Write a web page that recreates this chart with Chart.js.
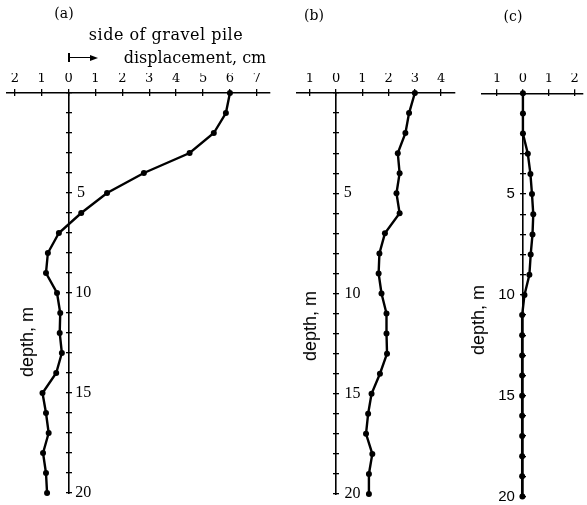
<!DOCTYPE html>
<html><head><meta charset="utf-8">
<script src="https://cdn.jsdelivr.net/npm/chart.js@4"></script>
<style>
body{margin:0;background:#fff;width:587px;height:505px;position:relative;overflow:hidden}
canvas{position:absolute;top:0}
.t{position:absolute;white-space:nowrap;color:#000;line-height:1;transform:translate(-50%,-50%)}
.ser{font-family:'DejaVu Serif',serif}
.rot{font-family:'Liberation Sans',Arial,sans-serif;font-size:18px;transform:translate(-50%,-50%) rotate(-90deg)}
.blk{position:absolute;background:#000}
</style></head><body>
<canvas id="ca" width="290" height="505" style="left:0"></canvas>
<canvas id="cb" width="170" height="505" style="left:290px"></canvas>
<canvas id="cc" width="127" height="505" style="left:460px"></canvas>

<div class="t ser" style="left:64px;top:13px;font-size:14px">(a)</div>
<div class="t ser" style="left:314px;top:15px;font-size:14px">(b)</div>
<div class="t ser" style="left:513px;top:16px;font-size:14px">(c)</div>
<div class="t ser" style="left:166px;top:35px;font-size:16px;letter-spacing:0.5px">side of gravel pile</div>
<div class="t ser" style="left:195px;top:58px;font-size:16px">displacement, cm</div>
<div class="blk" style="left:68px;top:53px;width:1.5px;height:9px"></div>
<div class="blk" style="left:68px;top:56.8px;width:24px;height:1.5px"></div>
<div style="position:absolute;left:90px;top:54.5px;width:0;height:0;border-left:8px solid #000;border-top:3px solid transparent;border-bottom:3px solid transparent"></div>
<div class="t rot" style="left:27px;top:342px">depth, m</div>
<div class="t rot" style="left:310px;top:326px">depth, m</div>
<div class="t rot" style="left:478px;top:320px">depth, m</div>

<script>
// depth below ground, m
const depths = [0,1,2,3,4,5,6,7,8,9,10,11,12,13,14,15,16,17,18,19,20];
// lateral displacement, cm
const dispA = [6.0,5.85,5.4,4.5,2.8,1.43,0.47,-0.36,-0.77,-0.84,-0.43,-0.31,-0.33,-0.25,-0.46,-0.97,-0.84,-0.74,-0.95,-0.84,-0.8];
const dispB = [3.0,2.78,2.64,2.35,2.42,2.3,2.42,1.86,1.65,1.62,1.73,1.92,1.92,1.94,1.67,1.35,1.22,1.14,1.38,1.25,1.25];
const dispC = [0,0,0,0.19,0.29,0.35,0.4,0.37,0.3,0.25,0.06,-0.03,-0.03,-0.03,-0.03,-0.03,-0.03,-0.03,-0.03,-0.03,-0.02];
// tick labels
const depthTickLabels = [5,10,15,20];
const xRangeA = [-2.29, 7.49];
const xRangeB = [-1.49, 4.53];
const xRangeC = [-1.58, 2.32];

function zeroPad(s){ s.paddingTop=0; s.paddingBottom=0; s.paddingLeft=0; s.paddingRight=0; }

function makePanel(id, values, xr, o){
  const data = depths.map((d,i)=>({x: values[i], y: d}));
  const scales = {
    x: {type:'linear', position:'top', min:xr[0], max:xr[1],
        afterFit: s=>{ s.height = 20; zeroPad(s); },
        ticks:{stepSize:1, includeBounds:false, autoSkip:false, maxRotation:0, padding:3, color:'#000',
               font:{family:'DejaVu Serif', size:13}, callback: v => String(Math.abs(Math.round(v)))},
        grid:{drawOnChartArea:false, drawTicks:true, tickLength:4, color:'#000', lineWidth:1.3},
        border:{display:true, color:'#000', width:1.6}},
    x2: {type:'linear', position:{y:0}, min:xr[0], max:xr[1],
        afterFit: zeroPad,
        ticks:{display:false, stepSize:1, includeBounds:false},
        grid:{drawOnChartArea:false, drawTicks:true, tickLength:3, color:'#000', lineWidth:1.3},
        border:{display:false}},
    y: {type:'linear', position:{x:0}, reverse:true, min:0, max:20,
        afterFit: zeroPad,
        ticks:{display:false},
        grid:{drawOnChartArea:false, drawTicks:false},
        border:{display:true, color:'#000', width:1.6}},
    y2: {type:'linear', position:{x:o.tickOff}, reverse:true, min:0, max:20,
        afterFit: zeroPad,
        ticks:{display:false, stepSize:1, includeBounds:false},
        grid:{drawOnChartArea:false, drawTicks:true, tickLength:6, color:'#000', lineWidth:1.3},
        border:{display:false}}
  };
  o.labelScales.forEach((ls, k)=>{
    scales['yl'+k] = {type:'linear', position:{x:ls.pos}, reverse:true, min:0, max:20,
      afterFit: zeroPad,
      ticks:{stepSize:5, includeBounds:false, autoSkip:false, padding:0, color:'#000', font:o.font,
             callback: v => (ls.show.includes(v) && depthTickLabels.includes(v)) ? String(v) : ''},
      grid:{display:false, drawTicks:false, drawOnChartArea:false},
      border:{display:false}};
  });
  return new Chart(document.getElementById(id), {
    type:'scatter',
    data:{datasets:[{data, xAxisID:'x', yAxisID:'y', showLine:true, borderColor:'#000', borderWidth:2.4,
      backgroundColor:'#000', pointBackgroundColor:'#000', pointBorderWidth:0, pointRadius:3, clip:false, tension:0}]},
    options:{responsive:false, animation:false, devicePixelRatio:1,
      layout:{padding:o.pad},
      plugins:{legend:{display:false}, tooltip:{enabled:false}, title:{display:false}},
      scales}
  });
}

makePanel('ca', dispA, xRangeA, {
  pad:{left:7, right:20, top:73, bottom:12}, tickOff:0.112,
  font:{family:'Liberation Serif', size:16},
  labelScales:[{pos:0.61, show:[5]}, {pos:0.84, show:[10,15,20]}]
});
makePanel('cb', dispB, xRangeB, {
  pad:{left:7, right:5, top:73, bottom:11}, tickOff:0.114,
  font:{family:'Liberation Serif', size:16},
  labelScales:[{pos:0.6, show:[5]}, {pos:0.93, show:[10,15,20]}]
});
makePanel('cc', dispC, xRangeC, {
  pad:{left:22, right:0, top:73.3, bottom:8.5}, tickOff:0.111,
  font:{family:'Liberation Sans', size:15},
  labelScales:[{pos:-0.31, show:[5,10,15,20]}]
});
</script>
</body></html>
